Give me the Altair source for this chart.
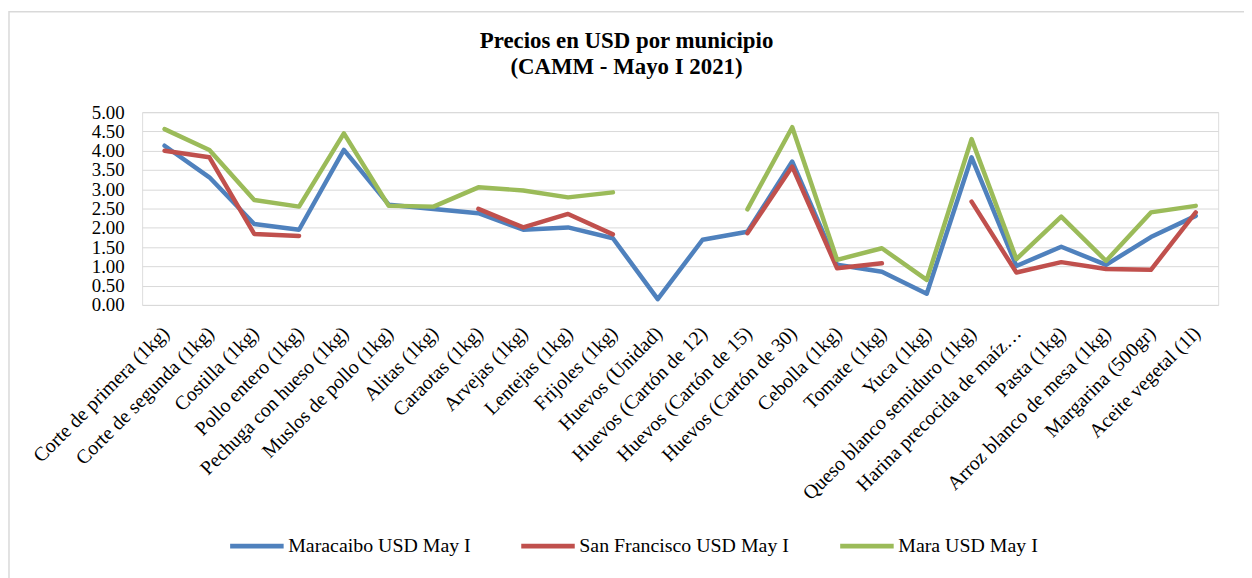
import altair as alt
import pandas as pd

categories = [
    "Corte de primera (1kg)", "Corte de segunda (1kg)", "Costilla (1kg)",
    "Pollo entero (1kg)", "Pechuga con hueso (1kg)", "Muslos de pollo (1kg)",
    "Alitas (1kg)", "Caraotas (1kg)", "Arvejas (1kg)", "Lentejas (1kg)",
    "Frijoles (1kg)", "Huevos (Unidad)", "Huevos (Cartón de 12)",
    "Huevos (Cartón de 15)", "Huevos (Cartón de 30)", "Cebolla (1kg)",
    "Tomate (1kg)", "Yuca (1kg)", "Queso blanco semiduro (1kg)",
    "Harina precocida de maíz…", "Pasta (1kg)", "Arroz blanco de mesa (1kg)",
    "Margarina (500gr)", "Aceite vegetal (1l)",
]

maracaibo = [4.13, 3.31, 2.10, 1.95, 4.02, 2.60, 2.49, 2.38, 1.95, 2.01, 1.73, 0.15,
             1.69, 1.90, 3.72, 1.04, 0.86, 0.29, 3.83, 1.01, 1.51, 1.04, 1.76, 2.31]
san_francisco = [4.00, 3.83, 1.84, 1.79, None, None, None, 2.49, 2.01, 2.36, 1.83, None,
                 None, 1.86, 3.59, 0.95, 1.08, None, 2.68, 0.84, 1.11, 0.93, 0.91, 2.40]
mara = [4.56, 4.02, 2.72, 2.55, 4.45, 2.57, 2.55, 3.05, 2.97, 2.79, 2.92, None,
        None, 2.48, 4.61, 1.17, 1.47, 0.65, 4.30, 1.19, 2.29, 1.14, 2.40, 2.57]

series_names = ["Maracaibo USD May I", "San Francisco USD May I", "Mara USD May I"]
series_colors = ["#4f81bd", "#c0504d", "#9bbb59"]
y_ticks = [0, 0.5, 1, 1.5, 2, 2.5, 3, 3.5, 4, 4.5, 5]
title_lines = ["Precios en USD por municipio", "(CAMM - Mayo I 2021)"]

rows = []
for name, vals in zip(series_names, [maracaibo, san_francisco, mara]):
    for i, (c, v) in enumerate(zip(categories, vals)):
        rows.append({"Producto": c, "Serie": name, "Precio": v, "idx": i})
df = pd.DataFrame(rows)

FONT = "Liberation Serif"
W, H = 1083, 194

lines = alt.Chart(df).mark_line(
    strokeWidth=4.5, strokeCap="round", strokeJoin="round",
    invalid="break-paths-show-domains"
).encode(
    x=alt.X("Producto:N", sort=categories, title=None,
            axis=alt.Axis(labelAngle=-45, labelFont=FONT, labelFontSize=20,
                          labelColor="#000", ticks=False, domain=False,
                          labelPadding=18, labelOffset=-6, labelLimit=400,
                          grid=False)),
    y=alt.Y("Precio:Q", title=None,
            scale=alt.Scale(domain=[0, 5], nice=False),
            axis=alt.Axis(values=y_ticks, format=".2f", labelFont=FONT,
                          labelFontSize=19, labelColor="#000", ticks=False,
                          domain=False, labelPadding=18, gridColor="#d9d9d9",
                          gridWidth=1)),
    color=alt.Color("Serie:N", sort=series_names,
                    scale=alt.Scale(domain=series_names, range=series_colors),
                    legend=alt.Legend(orient="none", legendX=86, legendY=407,
                                      direction="horizontal", title=None,
                                      symbolType="stroke", symbolStrokeWidth=5,
                                      symbolSize=2900, labelFont=FONT,
                                      labelFontSize=20, labelColor="#000",
                                      labelLimit=400,
                                      columnPadding=40, labelOffset=2)),
    order=alt.Order("idx:Q"),
)

border = alt.Chart(alt.Data(values=[{}])).mark_rect(
    fill=None, stroke="#d9d9d9", strokeWidth=1.5
).encode(
    x=alt.value(-134), x2=alt.value(W + 60),
    y=alt.value(-101), y2=alt.value(H + 320),
)

title = alt.Chart(alt.Data(values=[{"t": "\n".join(title_lines)}])).mark_text(
    font=FONT, fontSize=23, fontWeight="bold", color="#000",
    align="center", baseline="alphabetic", lineBreak="\n", lineHeight=27,
).encode(
    text="t:N", x=alt.value(W / 2 - 54), y=alt.value(-65),
)

chart = alt.layer(border, lines, title).properties(
    width=W, height=H,
    padding={"left": 135, "top": 103, "right": 26, "bottom": 273},
    autosize=alt.AutoSizeParams(type="none"),
).configure_view(stroke=None).configure(background="white")

chart.save("out.html", embed_options={"renderer": "svg", "actions": False})
